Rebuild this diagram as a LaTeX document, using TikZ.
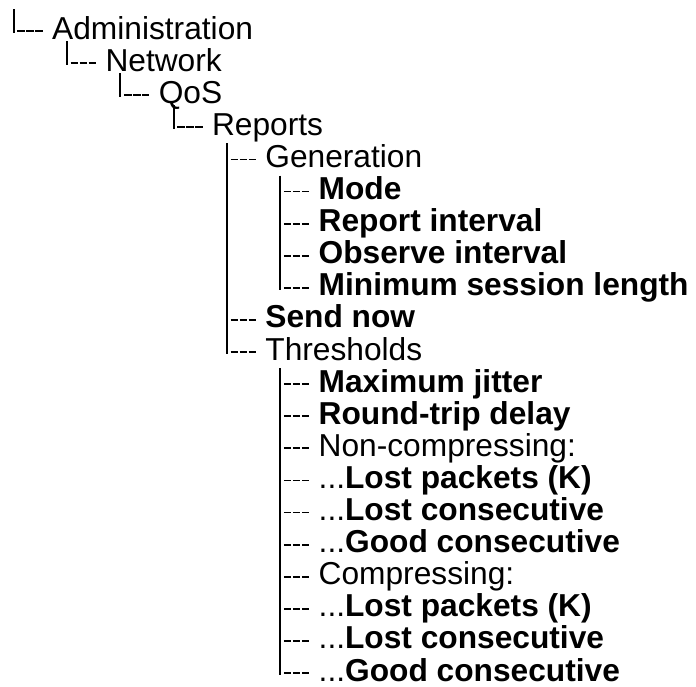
\documentclass[tikz,border=0pt]{standalone}
\usepackage{fontspec}
\setmainfont{Liberation Sans}
\begin{document}
\begin{tikzpicture}[x=0.5pt, y=-0.5pt,
		font=\fontsize{15.85}{16}\selectfont,
		entry/.style={anchor=base west, inner sep=0pt},
		field/.style={entry, font=\fontsize{15.85}{16}\selectfont\bfseries},
		bar/.style={line width=0.95pt},
		stub/.style={line width=0.9pt, dash pattern=on 3.8pt off 0.7pt}]
		\useasboundingbox (0,0) rectangle (696,686);
		
		% Menu path
		\node[entry] (admin) at (51.8,39) {Administration};
		\node[entry] (network) at (105.1,71.1) {Network};
		\node[entry] (qos) at (158.4,103.2) {QoS};
		\node[entry] (reports) at (211.7,135.3) {Reports};
		
		% Generation
		\node[entry] (generation) at (265,167.4) {Generation};
		\node[field] (mode) at (318.3,199.5) {Mode};
		\node[field] (repint) at (318.3,231.6) {Report interval};
		\node[field] (obsint) at (318.3,263.7) {Observe interval};
		\node[field] (minlen) at (318.3,295.8) {Minimum session length};
		\node[field] (sendnow) at (265,327.9) {Send now};
		
		% Thresholds
		\node[entry] (thresholds) at (265,360) {Thresholds};
		\node[field] (jitter) at (318.3,392.1) {Maximum jitter};
		\node[field] (rtdelay) at (318.3,424.2) {Round-trip delay};
		\node[entry] (noncomp) at (318.3,456.3) {Non-compressing:};
		\node[entry] (nclost) at (318.3,488.4) {...\textbf{Lost packets (K)}};
		\node[entry] (nclostc) at (318.3,520.5) {...\textbf{Lost consecutive}};
		\node[entry] (ncgood) at (318.3,552.6) {...\textbf{Good consecutive}};
		\node[entry] (comp) at (318.3,584.7) {Compressing:};
		\node[entry] (clost) at (318.3,616.8) {...\textbf{Lost packets (K)}};
		\node[entry] (clostc) at (318.3,648.9) {...\textbf{Lost consecutive}};
		\node[entry] (cgood) at (318.3,681) {...\textbf{Good consecutive}};
		
		% Bars
		\draw[bar] (admin.base west) ++(-19pt,15pt) -- ([shift={(-19pt,3pt)}]admin.base west);
		\draw[bar] (network.base west) ++(-19pt,15pt) -- ([shift={(-19pt,3pt)}]network.base west);
		\draw[bar] (qos.base west) ++(-19pt,15pt) -- ([shift={(-19pt,3pt)}]qos.base west);
		\draw[bar] (reports.base west) ++(-19pt,15pt) -- ([shift={(-19pt,3pt)}]reports.base west);
		\draw[bar] (generation.base west) ++(-19pt,12pt) -- ([shift={(-19pt,3pt)}]thresholds.base west);
		\draw[bar] (mode.base west) ++(-19pt,12pt) -- ([shift={(-19pt,3pt)}]minlen.base west);
		\draw[bar] (jitter.base west) ++(-19pt,12pt) -- ([shift={(-19pt,3pt)}]cgood.base west);
		
		% Dashes
		\draw[stub] (admin.base west) ++(-17.25pt,4pt) -- ++(12.75pt,0);
		\draw[stub] (network.base west) ++(-17.25pt,4pt) -- ++(12.75pt,0);
		\draw[stub] (qos.base west) ++(-17.25pt,4pt) -- ++(12.75pt,0);
		\draw[stub] (reports.base west) ++(-17.25pt,4pt) -- ++(12.75pt,0);
		\draw[stub] (generation.base west) ++(-17.25pt,4pt) -- ++(12.75pt,0);
		\draw[stub] (mode.base west) ++(-17.25pt,4pt) -- ++(12.75pt,0);
		\draw[stub] (repint.base west) ++(-17.25pt,4pt) -- ++(12.75pt,0);
		\draw[stub] (obsint.base west) ++(-17.25pt,4pt) -- ++(12.75pt,0);
		\draw[stub] (minlen.base west) ++(-17.25pt,4pt) -- ++(12.75pt,0);
		\draw[stub] (sendnow.base west) ++(-17.25pt,4pt) -- ++(12.75pt,0);
		\draw[stub] (thresholds.base west) ++(-17.25pt,4pt) -- ++(12.75pt,0);
		\draw[stub] (jitter.base west) ++(-17.25pt,4pt) -- ++(12.75pt,0);
		\draw[stub] (rtdelay.base west) ++(-17.25pt,4pt) -- ++(12.75pt,0);
		\draw[stub] (noncomp.base west) ++(-17.25pt,4pt) -- ++(12.75pt,0);
		\draw[stub] (nclost.base west) ++(-17.25pt,4pt) -- ++(12.75pt,0);
		\draw[stub] (nclostc.base west) ++(-17.25pt,4pt) -- ++(12.75pt,0);
		\draw[stub] (ncgood.base west) ++(-17.25pt,4pt) -- ++(12.75pt,0);
		\draw[stub] (comp.base west) ++(-17.25pt,4pt) -- ++(12.75pt,0);
		\draw[stub] (clost.base west) ++(-17.25pt,4pt) -- ++(12.75pt,0);
		\draw[stub] (clostc.base west) ++(-17.25pt,4pt) -- ++(12.75pt,0);
		\draw[stub] (cgood.base west) ++(-17.25pt,4pt) -- ++(12.75pt,0);
	\end{tikzpicture}
\end{document}
